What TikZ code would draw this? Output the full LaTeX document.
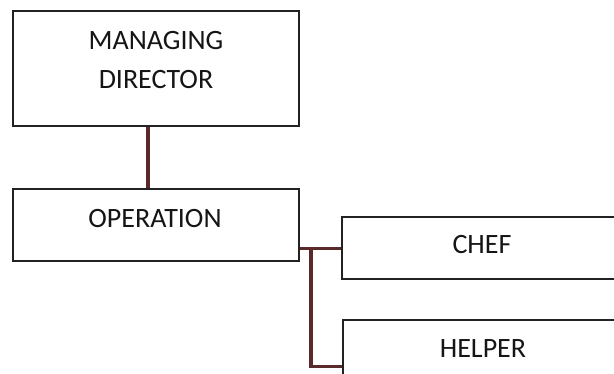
\documentclass[tikz,border=0pt]{standalone}
\usepackage{fontspec}
\setmainfont{Carlito}
\definecolor{textcol}{HTML}{151515}
\definecolor{boxcol}{HTML}{222222}
\definecolor{conncol}{HTML}{5A2A2A}
\begin{document}
\begin{tikzpicture}[x=1pt,y=-1pt,
  box/.style={draw=boxcol,line width=2.2pt,fill=white,inner sep=0pt},
  conn/.style={draw=conncol,line width=3.2pt},
  lbl/.style={anchor=base,font=\fontsize{28}{39}\selectfont,text=textcol,inner sep=0pt}]
\useasboundingbox (0,0) rectangle (614,373);
\clip (0,0) rectangle (614,373);
\fill[white] (0,0) rectangle (614,373);
% boxes
\node[box, minimum width=286pt, minimum height=115pt] (md) at (156,68.5) {};
\node[box, minimum width=286pt, minimum height=72pt] (op) at (156,225) {};
\node[box, minimum width=300pt, minimum height=62pt, anchor=north west] (chef) at (341,216) {};
\node[box, minimum width=300pt, minimum height=62pt, anchor=north west] (helper) at (342,319) {};
% labels
\node[lbl] (mdtop) at (156,49) {MANAGING};
\node[lbl] (mdbot) at (156,88) {DIRECTOR};
\node[lbl] (optext) at (155,227) {OPERATION};
\node[lbl] (cheftext) at (482,253) {CHEF};
\node[lbl] (helpertext) at (483,357) {HELPER};
% connectors
\coordinate (mdx) at (148,0);
\coordinate (trunk) at (311,0);
\coordinate (hj) at ([yshift=-15pt]helper.west);
\draw[conn] (md.south -| mdx) -- (op.north -| mdx);
\draw[conn] (op.east |- chef.west) -- (chef.west);
\draw[conn,line join=miter] (chef.west -| trunk) -- (hj -| trunk) -- (hj);
\end{tikzpicture}
\end{document}
